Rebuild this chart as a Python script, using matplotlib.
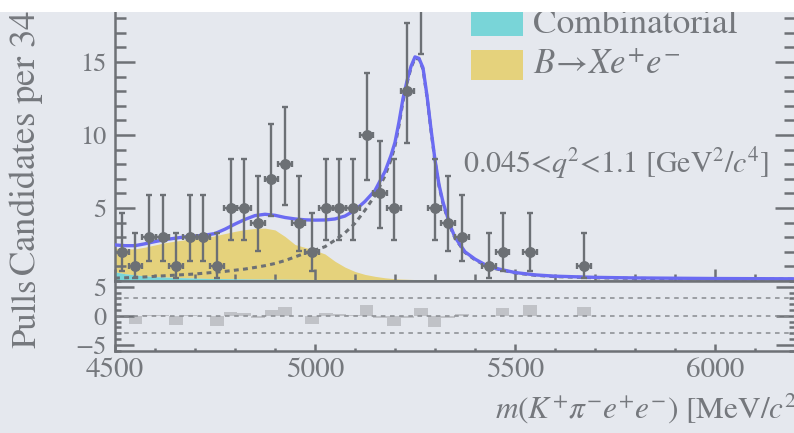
import math
import numpy as np
import matplotlib
matplotlib.use("Agg")
import matplotlib.pyplot as plt
from matplotlib.patches import Rectangle
from matplotlib.ticker import MultipleLocator

# ---- data ----
bin_width = 34
bin_lo = 4500
counts = [2, 1, 3, 3, 1, 3, 3, 1, 5, 5, 4, 7, 8, 4, 2, 5, 5, 5, 10, 6,
          5, 13, 20, 5, 4, 3, 0, 1, 2, 0, 2, 0, 0, 0, 1, 0, 0, 0, 0, 0,
          0, 0, 0, 0, 0, 0, 0, 0, 0, 0]
pulls = [-0.3, -1.4, 0.2, 0.15, -1.55, 0.1, -0.05, -1.75, 0.7, 0.5,
         -0.35, 1.05, 1.6, -0.1, -1.35, 0.42, 0.32, 0.15, 1.85, -0.3,
         -1.75, -0.35, 1.3, -1.9, -0.45, 0.3, 0.0, 0.0, 1.3, 0.0,
         1.85, 0.0, 0.0, 0.0, 1.5, 0, 0, 0, 0, 0,
         0, 0, 0, 0, 0, 0, 0, 0, 0, 0]

curve_m = [4500, 4525, 4550, 4575, 4600, 4625, 4650, 4675, 4700, 4725,
           4750, 4775, 4800, 4825, 4850, 4875, 4900, 4925, 4950, 4975,
           5000, 5025, 5050, 5075, 5100, 5125, 5150, 5175, 5190, 5200,
           5210, 5220, 5230, 5240, 5250, 5260, 5270, 5280, 5290, 5300,
           5310, 5320, 5330, 5340, 5350, 5375, 5400, 5425, 5450, 5500,
           5550, 5600, 5700, 5800, 5900, 6000, 6100, 6200]
total_fit = [2.47, 2.42, 2.42, 2.55, 2.7, 2.83, 2.93, 3.02, 3.08, 3.14,
             3.25, 3.55, 3.9, 4.22, 4.48, 4.57, 4.5, 4.35, 4.25, 4.19,
             4.17, 4.18, 4.25, 4.45, 4.85, 5.45, 6.2, 7.5, 8.6, 9.5,
             10.9, 12.5, 13.7, 14.7, 15.35, 15.25, 14.6, 12.7, 10.4, 8.3,
             6.6, 5.4, 4.5, 3.65, 3.0, 2.0, 1.5, 1.12, 0.88, 0.58,
             0.42, 0.33, 0.25, 0.21, 0.19, 0.17, 0.16, 0.15]
signal = [0.2, 0.22, 0.25, 0.28, 0.32, 0.36, 0.4, 0.44, 0.48, 0.54,
          0.6, 0.66, 0.74, 0.82, 0.93, 1.05, 1.2, 1.4, 1.65, 1.9,
          2.12, 2.35, 2.8, 3.3, 3.95, 4.85, 5.85, 7.2, 8.3, 9.25,
          10.65, 12.3, 13.55, 14.6, 15.25, 15.2, 14.5, 12.6, 10.3, 8.2,
          6.5, 5.3, 4.4, 3.58, 2.93, 1.95, 1.45, 1.08, 0.85, 0.55,
          0.39, 0.3, 0.22, 0.18, 0.16, 0.15, 0.14, 0.13]
combinatorial = [0.62, 0.5, 0.42, 0.35, 0.3, 0.27, 0.24, 0.22, 0.2, 0.18,
                 0.17, 0.16, 0.15, 0.14, 0.13, 0.13, 0.12, 0.12, 0.11, 0.11,
                 0.1, 0.1, 0.1, 0.09, 0.09, 0.09, 0.08, 0.08, 0.08, 0.07,
                 0.07, 0.07, 0.07, 0.07, 0.07, 0.07, 0.07, 0.06, 0.06, 0.06,
                 0.06, 0.06, 0.06, 0.06, 0.06, 0.06, 0.05, 0.05, 0.05, 0.05,
                 0.05, 0.04, 0.04, 0.04, 0.03, 0.03, 0.03, 0.03]
partreco_top = [2.25, 2.2, 2.2, 2.32, 2.47, 2.62, 2.73, 2.82, 2.9, 2.98,
                3.1, 3.25, 3.4, 3.52, 3.6, 3.62, 3.5, 3.05, 2.5, 2.3,
                2.1, 1.85, 1.35, 0.95, 0.65, 0.45, 0.32, 0.22, 0.18, 0.16,
                0.14, 0.13, 0.12, 0.11, 0.1, 0.1, 0.09, 0.09, 0.08, 0.07,
                0.07, 0.07, 0.06, 0.06, 0.06, 0.06, 0.05, 0.05, 0.05, 0.05,
                0.05, 0.04, 0.04, 0.04, 0.03, 0.03, 0.03, 0.03]

main_yticks = [5, 10, 15]
pull_yticks = [-5, 0, 5]
pull_yticklabels = ["\u22125", "0", "5"]

# ---- colours ----
bg = "#e5e8ee"
txt = "#75787d"
axc = "#6e7176"
ptc = "#6c7075"
blue = "#6b6bf2"
yellow = "#e5d27c"
cyan = "#79d5d8"
pullc = "#c0c2c7"

W, H = 794, 433
plt.rcParams["font.family"] = "STIXGeneral"
plt.rcParams["mathtext.fontset"] = "stix"


def poisson_cdf(k, mu):
    s, term = 0.0, math.exp(-mu)
    for i in range(k + 1):
        if i > 0:
            term *= mu / i
        s += term
    return s


def garwood(n, a=0.158655):
    # 68% central Poisson interval
    def solve(f, lo, hi):
        for _ in range(80):
            mid = 0.5 * (lo + hi)
            if f(mid) > 0:
                hi = mid
            else:
                lo = mid
        return 0.5 * (lo + hi)
    low = 0.0 if n == 0 else solve(lambda mu: (1 - poisson_cdf(n - 1, mu)) - a, 0, n + 10)
    up = solve(lambda mu: a - poisson_cdf(n, mu), 0, n + 20)
    return low, up


centers = np.array([bin_lo + bin_width * (i + 0.5) for i in range(len(counts))])
counts_a = np.array(counts)
keep = counts_a > 0
ivals = [garwood(n) for n in counts_a[keep]]
err_lo = counts_a[keep] - np.array([v[0] for v in ivals])
err_hi = np.array([v[1] for v in ivals]) - counts_a[keep]

fig = plt.figure(figsize=(W / 100, H / 100), dpi=100, facecolor=bg)
ax = fig.add_axes([115 / W, 152 / H, 680 / W, 292 / H], facecolor=bg)
axp = fig.add_axes([115 / W, 82.3 / H, 680 / W, 69.7 / H], facecolor=bg, sharex=ax)

cm = np.array(curve_m)
comb = np.array(combinatorial)
ax.fill_between(cm, 0, comb, color=cyan, lw=0, zorder=2)
ax.fill_between(cm, comb, np.maximum(partreco_top, comb), color=yellow, lw=0, zorder=1)
ax.plot(cm, signal, color=ptc, lw=2.2, ls=(0, (1.6, 1.4)), zorder=3)
ax.plot(cm, total_fit, color=blue, lw=2.4, zorder=4)
ax.errorbar(centers[keep], counts_a[keep], xerr=bin_width / 2, yerr=[err_lo, err_hi],
            fmt="o", ms=6.8, color=ptc, ecolor=ptc, elinewidth=1.7, capsize=2.2,
            capthick=1.7, zorder=5)

ax.set_xlim(4500, 6200)
ax.set_ylim(0, 20)
ax.set_yticks(main_yticks)

# pulls
axp.bar(centers, pulls, width=bin_width, color=pullc, lw=0, zorder=1)
for yv in (-3, 0, 3):
    axp.axhline(yv, color="#888b90", lw=1.1, ls=(0, (3, 3)), zorder=2)
axp.set_ylim(-6, 6)
axp.set_yticks(pull_yticks)
axp.set_yticklabels(pull_yticklabels)

for a in (ax, axp):
    a.set_facecolor(bg)
    for s in a.spines.values():
        s.set_color(axc)
        s.set_linewidth(1.8)
    a.xaxis.set_major_locator(MultipleLocator(500))
    a.xaxis.set_minor_locator(MultipleLocator(100))
    a.tick_params(which="both", direction="in", color=axc, width=1.8,
                  labelcolor=txt, left=True, right=True)

ax.yaxis.set_minor_locator(MultipleLocator(1))
ax.tick_params(axis="y", which="major", length=14.5, labelsize=19, pad=6)
ax.tick_params(axis="y", which="minor", length=8)
ax.tick_params(axis="x", which="major", length=9, labelbottom=False)
ax.tick_params(axis="x", which="minor", length=5)

axp.yaxis.set_minor_locator(MultipleLocator(1))
axp.tick_params(axis="y", which="major", length=14, labelsize=19, pad=6)
axp.tick_params(axis="y", which="minor", length=4.5)
axp.tick_params(axis="x", which="major", length=5, labelsize=21, pad=5)
axp.tick_params(axis="x", which="minor", length=2.5)

# labels
fig.text(25 / W, 1 - 276 / H, "Candidates per 34 MeV/$c^2$", rotation=90,
         ha="center", va="bottom", fontsize=26.5, color=txt)
fig.text(27 / W, 1 - 313 / H, "Pulls", rotation=90, ha="center", va="center",
         fontsize=25, color=txt)
fig.text(806 / W, 1 - 418 / H, r"$m(K^{+}\pi^{-}e^{+}e^{-})$ [MeV/$c^{2}$]",
         ha="right", va="baseline", fontsize=22.5, color=txt)
fig.text(463 / W, 1 - 173 / H, "0.045<$q^2$<1.1 [GeV$^2$/$c^4$]",
         ha="left", va="baseline", fontsize=21.6, color=txt)

# legend
fig.add_artist(Rectangle((471 / W, 1 - 36 / H), 52 / W, 30 / H, transform=fig.transFigure,
                         color=cyan, lw=0))
fig.add_artist(Rectangle((471 / W, 1 - 80 / H), 52 / W, 30 / H, transform=fig.transFigure,
                         color=yellow, lw=0))
fig.text(533 / W, 1 - 33 / H, "Combinatorial", ha="left", va="baseline", fontsize=25.5, color=txt)
fig.text(533 / W, 1 - 74 / H, r"$B\!\rightarrow\!Xe^{+}e^{-}$", ha="left", va="baseline",
         fontsize=25, color=txt)

# white strip at the top of the crop
fig.add_artist(Rectangle((0, 1 - 12 / H), 1, 12 / H, transform=fig.transFigure,
                         color="white", lw=0, zorder=100))

fig.savefig("out.png", dpi=100, facecolor=bg)
